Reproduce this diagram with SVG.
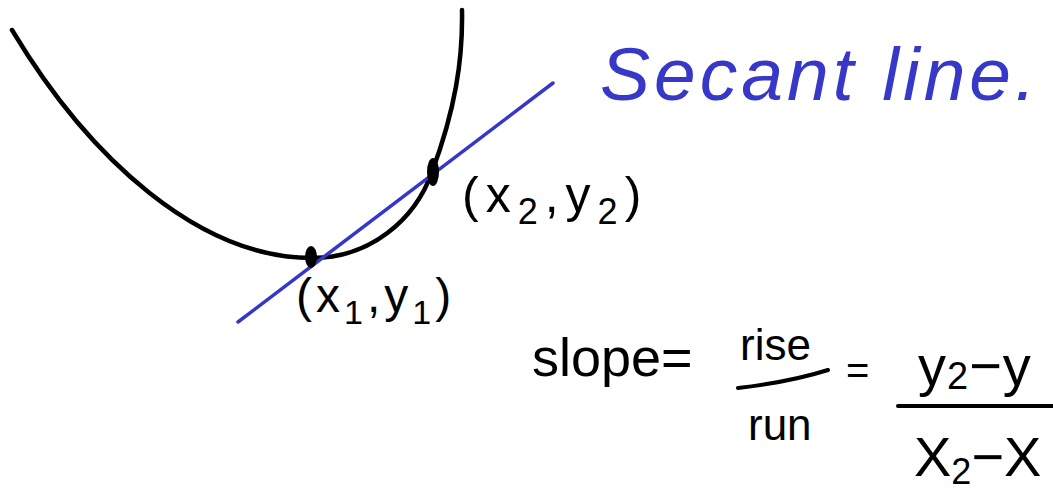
<svg xmlns="http://www.w3.org/2000/svg" width="1053" height="494" viewBox="0 0 1053 494">
<style>
.ink{font-family:"Liberation Sans",Arial,sans-serif;fill:#000}
.blue{font-family:"Liberation Sans",Arial,sans-serif;fill:#3737c8;font-style:italic}
.curve{fill:none;stroke:#000;stroke-width:4.5;stroke-linecap:round}
.sec{stroke:#3636c8;stroke-width:3.5;stroke-linecap:round}
.bar{stroke:#000;stroke-width:4;stroke-linecap:round;fill:none}
</style>
<rect width="1053" height="494" fill="#fff"/>
<g id="curve">
<path class="curve" d="M12,30 C90,160 200,258 312,258 C370,258 415,220 432,172 C455,110 463,60 462,10"/>
</g>
<g id="connectors">
<line class="sec" x1="238" y1="322" x2="553" y2="83"/>
</g>
<g id="point1">
<ellipse cx="311" cy="257" rx="6" ry="11" fill="#000"/>
<text class="ink" x="296" y="312" font-size="48" letter-spacing="4">(x<tspan font-size="34" dy="12">1</tspan><tspan dy="-12">,y</tspan><tspan font-size="34" dy="12">1</tspan><tspan dy="-12">)</tspan></text>
</g>
<g id="point2">
<ellipse cx="433" cy="172" rx="6" ry="14" fill="#000"/>
<text class="ink" x="462" y="212" font-size="50" letter-spacing="7">(x<tspan font-size="36" dy="12">2</tspan><tspan dy="-12">,y</tspan><tspan font-size="36" dy="12">2</tspan><tspan dy="-12">)</tspan></text>
</g>
<g id="title">
<text class="blue" x="600" y="100" font-size="75" letter-spacing="4">Secant line.</text>
</g>
<g id="formula">
<text class="ink" x="532" y="376" font-size="54">slope=</text>
<text class="ink" x="740" y="360" font-size="44">rise</text>
<path class="bar" d="M738,388 Q790,382 828,370"/>
<text class="ink" x="748" y="440" font-size="44">run</text>
<text class="ink" x="846" y="384" font-size="40">=</text>
<text class="ink" x="918" y="385" font-size="56" letter-spacing="1">y<tspan font-size="38" dy="4">2</tspan><tspan dy="-4">−y</tspan></text>
<line class="bar" x1="898" y1="406" x2="1060" y2="406"/>
<text class="ink" x="914" y="476" font-size="56" letter-spacing="0">X<tspan font-size="36" dy="8">2</tspan><tspan dy="-8">−X</tspan></text>
</g>
</svg>
